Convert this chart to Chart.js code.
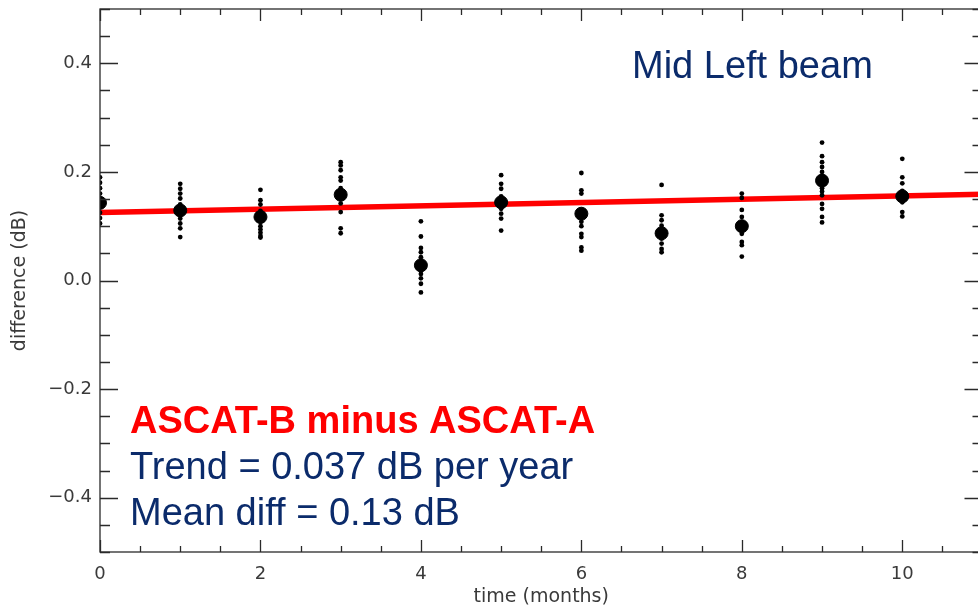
<!DOCTYPE html>
<html>
<head>
<meta charset="utf-8">
<script src="https://cdn.jsdelivr.net/npm/chart.js@4/dist/chart.umd.min.js"></script>
<style>
  html, body { margin: 0; padding: 0; background: #fff; overflow: hidden; }
  #wrap { position: absolute; left: 0; top: 0; width: 990px; height: 608px; }
</style>
</head>
<body>
<div id="wrap"><canvas id="beam-chart" width="990" height="608"></canvas></div>
<script>
// months since start of the comparison
var months = [0, 1, 2, 3, 4, 5, 6, 7, 8, 9, 10];

// monthly mean difference ASCAT-B minus ASCAT-A (dB)
var monthlyMean = [0.143, 0.129, 0.117, 0.158, 0.028, 0.144, 0.123, 0.087, 0.100, 0.184, 0.155];

// individual differences for each month (dB)
var sampleDiffs = [
  [0.19, 0.18, 0.17, 0.16, 0.15, 0.135, 0.125, 0.115, 0.105],
  [0.178, 0.169, 0.160, 0.151, 0.140, 0.120, 0.114, 0.105, 0.096, 0.080],
  [0.167, 0.148, 0.140, 0.128, 0.108, 0.100, 0.094, 0.088, 0.082, 0.079],
  [0.218, 0.212, 0.203, 0.190, 0.184, 0.170, 0.151, 0.142, 0.126, 0.096, 0.087],
  [0.109, 0.081, 0.060, 0.052, 0.043, 0.035, 0.018, 0.012, 0.004, -0.006, -0.022],
  [0.194, 0.178, 0.169, 0.155, 0.135, 0.132, 0.123, 0.114, 0.092],
  [0.198, 0.166, 0.160, 0.130, 0.108, 0.100, 0.086, 0.080, 0.061, 0.055],
  [0.176, 0.120, 0.111, 0.101, 0.094, 0.080, 0.077, 0.068, 0.058, 0.052],
  [0.160, 0.152, 0.130, 0.117, 0.108, 0.092, 0.086, 0.071, 0.065, 0.044],
  [0.254, 0.229, 0.218, 0.209, 0.200, 0.192, 0.170, 0.164, 0.157, 0.141, 0.132, 0.117, 0.107],
  [0.224, 0.190, 0.179, 0.165, 0.160, 0.144, 0.126, 0.118]
];

// fitted linear trend (0.037 dB per year)
var trendMonths = [0, 11];
var trendValues = [0.125, 0.159];

// axis ticks
var xTickValues = [0, 2, 4, 6, 8, 10];
var xTickLabels = ["0", "2", "4", "6", "8", "10"];
var yTickValues = [-0.4, -0.2, 0, 0.2, 0.4];
var yTickLabels = ["\u22120.4", "\u22120.2", "0.0", "0.2", "0.4"];

var navy = "#0b2b6b";

var samplePoints = [];
sampleDiffs.forEach(function (vals, i) {
  vals.forEach(function (v) { samplePoints.push({ x: months[i], y: v }); });
});
var meanPoints = months.map(function (m, i) { return { x: m, y: monthlyMean[i] }; });
var trendPoints = trendMonths.map(function (m, i) { return { x: m, y: trendValues[i] }; });

// frame with inward major/minor ticks on all four sides (IDL style)
var frameTicks = {
  id: "frameTicks",
  afterDatasetsDraw: function (chart) {
    var ctx = chart.ctx, a = chart.chartArea, x = chart.scales.x, y = chart.scales.y;
    ctx.save();
    ctx.strokeStyle = "#2a2a2a";
    ctx.lineWidth = 1.3;
    ctx.strokeRect(a.left, a.top, a.right - a.left, a.bottom - a.top);
    ctx.beginPath();
    for (var i = 0; x.min + i * 0.5 <= x.max + 1e-9; i++) {
      var px = Math.round(x.getPixelForValue(x.min + i * 0.5)) + 0.5;
      var len = (i % 4 === 0) ? 12 : 6;
      ctx.moveTo(px, a.bottom); ctx.lineTo(px, a.bottom - len);
      ctx.moveTo(px, a.top); ctx.lineTo(px, a.top + len);
    }
    for (var j = 0; y.min + j * 0.05 <= y.max + 1e-9; j++) {
      var py = Math.round(y.getPixelForValue(y.min + j * 0.05)) + 0.5;
      var ylen = ((j + 2) % 4 === 0) ? 18 : 10;
      ctx.moveTo(a.left, py); ctx.lineTo(a.left + ylen, py);
      ctx.moveTo(a.right, py); ctx.lineTo(a.right - ylen, py);
    }
    ctx.stroke();
    ctx.restore();
  }
};

// slide annotations
var slideText = {
  id: "slideText",
  afterDraw: function (chart) {
    var ctx = chart.ctx;
    ctx.save();
    ctx.textAlign = "left";
    ctx.textBaseline = "alphabetic";
    ctx.fillStyle = navy;
    ctx.font = "38px 'Liberation Sans', Arial, sans-serif";
    ctx.fillText("Mid Left beam", 632, 78);
    ctx.fillStyle = "#ff0000";
    ctx.font = "bold 38px 'Liberation Sans', Arial, sans-serif";
    ctx.fillText("ASCAT-B minus ASCAT-A", 130, 433);
    ctx.fillStyle = navy;
    ctx.font = "38px 'Liberation Sans', Arial, sans-serif";
    ctx.fillText("Trend = 0.037 dB per year", 130, 479);
    ctx.fillText("Mean diff = 0.13 dB", 130, 525);
    ctx.restore();
  }
};

var tickFont = { family: "'DejaVu Sans', sans-serif", size: 18 };
var titleFont = { family: "'DejaVu Sans', sans-serif", size: 19 };

var chart = new Chart(document.getElementById("beam-chart"), {
  type: "scatter",
  data: {
    datasets: [
      {
        label: "monthly mean",
        data: meanPoints,
        backgroundColor: "#000",
        borderColor: "#000",
        pointRadius: 6.5,
        pointHoverRadius: 6.5,
        clip: 0,
        order: 1
      },
      {
        label: "individual differences",
        data: samplePoints,
        backgroundColor: "#000",
        borderColor: "#000",
        pointRadius: 2.4,
        pointHoverRadius: 2.4,
        borderWidth: 0,
        clip: 0,
        order: 2
      },
      {
        label: "trend",
        data: trendPoints,
        showLine: true,
        borderColor: "#ff0000",
        borderWidth: 5.5,
        pointRadius: 0,
        clip: 0,
        order: 3
      }
    ]
  },
  options: {
    responsive: false,
    animation: false,
    layout: { padding: { top: 9, right: 5.4, left: 0, bottom: 0 } },
    plugins: {
      legend: { display: false },
      tooltip: { enabled: false }
    },
    scales: {
      x: {
        type: "linear",
        min: 0,
        max: 11,
        border: { display: false },
        grid: { display: false, drawTicks: false },
        afterBuildTicks: function (scale) {
          scale.ticks = xTickValues.map(function (v) { return { value: v }; });
        },
        afterFit: function (scale) {
          scale.height = 56;
          scale.paddingLeft = 0;
          scale.paddingRight = 0;
        },
        ticks: {
          padding: 12,
          maxRotation: 0,
          autoSkip: false,
          color: "#3a3a3a",
          font: tickFont,
          callback: function (v) { return xTickLabels[xTickValues.indexOf(v)]; }
        },
        title: {
          display: true,
          text: "time (months)",
          color: "#3a3a3a",
          font: titleFont,
          padding: { top: 0, bottom: 0 }
        }
      },
      y: {
        type: "linear",
        min: -0.5,
        max: 0.5,
        border: { display: false },
        grid: { display: false, drawTicks: false },
        afterBuildTicks: function (scale) {
          scale.ticks = yTickValues.map(function (v) { return { value: v }; });
        },
        afterFit: function (scale) {
          scale.width = 100;
          scale.paddingTop = 0;
          scale.paddingBottom = 0;
        },
        ticks: {
          padding: 8,
          autoSkip: false,
          color: "#3a3a3a",
          font: tickFont,
          callback: function (v) {
            for (var k = 0; k < yTickValues.length; k++) {
              if (Math.abs(yTickValues[k] - v) < 1e-9) return yTickLabels[k];
            }
            return "";
          }
        },
        title: {
          display: true,
          text: "difference (dB)",
          color: "#3a3a3a",
          font: titleFont,
          padding: { top: 9, bottom: 0 }
        }
      }
    }
  },
  plugins: [frameTicks, slideText]
});
</script>
</body>
</html>
